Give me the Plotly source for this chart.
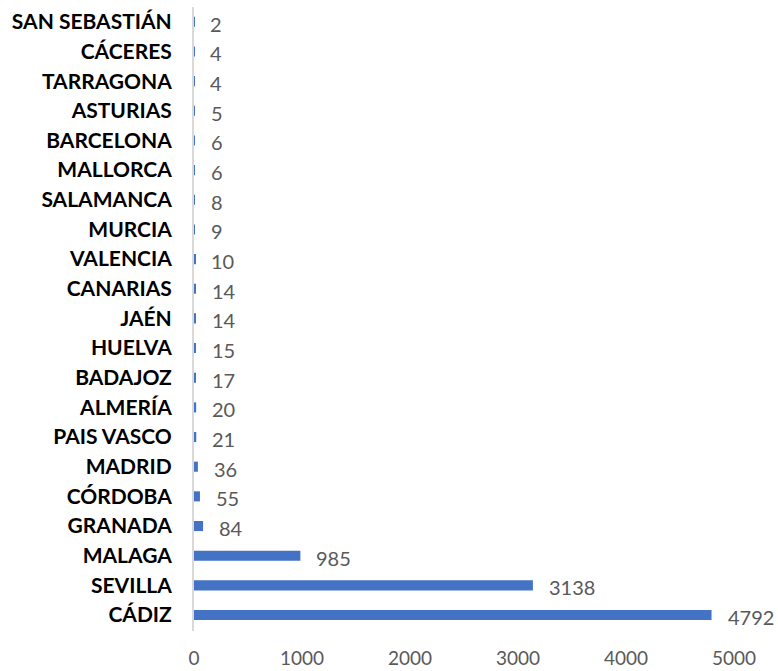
import plotly.graph_objects as go

provinces = ["CÁDIZ", "SEVILLA", "MALAGA", "GRANADA", "CÓRDOBA", "MADRID",
             "PAIS VASCO", "ALMERÍA", "BADAJOZ", "HUELVA", "JAÉN", "CANARIAS",
             "VALENCIA", "MURCIA", "SALAMANCA", "MALLORCA", "BARCELONA",
             "ASTURIAS", "TARRAGONA", "CÁCERES", "SAN SEBASTIÁN"]
counts = [4792, 3138, 985, 84, 55, 36, 21, 20, 17, 15, 14, 14,
          10, 9, 8, 6, 6, 5, 4, 4, 2]
x_ticks = [0, 1000, 2000, 3000, 4000, 5000]

bar_color = "#4472C4"
grey_text = "#595959"
font_name = "Lato"

fig = go.Figure()
fig.add_trace(
    go.Bar(
        y=provinces,
        x=counts,
        orientation="h",
        marker=dict(color=bar_color, line=dict(width=0)),
        showlegend=False,
        hoverinfo="x+y",
    )
)

# value labels, a fixed gap to the right of each bar end
for name, val in zip(provinces, counts):
    fig.add_annotation(
        x=val, y=name,
        text=str(val),
        showarrow=False,
        xanchor="left",
        xshift=14,
        yshift=-2,
        font=dict(family=font_name, size=20, color=grey_text),
    )

fig.update_layout(
    width=778,
    height=671,
    paper_bgcolor="white",
    plot_bgcolor="white",
    margin=dict(l=194, r=44, t=7, b=40, autoexpand=False),
    bargap=0.66,
    font=dict(family=font_name),
    xaxis=dict(
        range=[0, 5000],
        tickvals=x_ticks,
        ticktext=[str(t) for t in x_ticks],
        showgrid=False,
        zeroline=False,
        showline=False,
        ticks="",
        automargin=False,
        ticklabelstandoff=14,
        tickfont=dict(family=font_name, size=19, color=grey_text),
    ),
    yaxis=dict(
        categoryorder="array",
        categoryarray=provinces,
        showgrid=False,
        zeroline=False,
        showline=True,
        linecolor="#D9D9D9",
        linewidth=2,
        ticks="",
        automargin=False,
        ticklabelstandoff=16,
        tickfont=dict(family=font_name, size=21, color="black", weight="bold"),
    ),
)

# drop the default body margin so the figure sits flush in the window
fig.write_html(
    "out.html",
    config={"displayModeBar": False},
    post_script="document.body.style.margin='0';document.body.style.overflow='hidden';",
)
